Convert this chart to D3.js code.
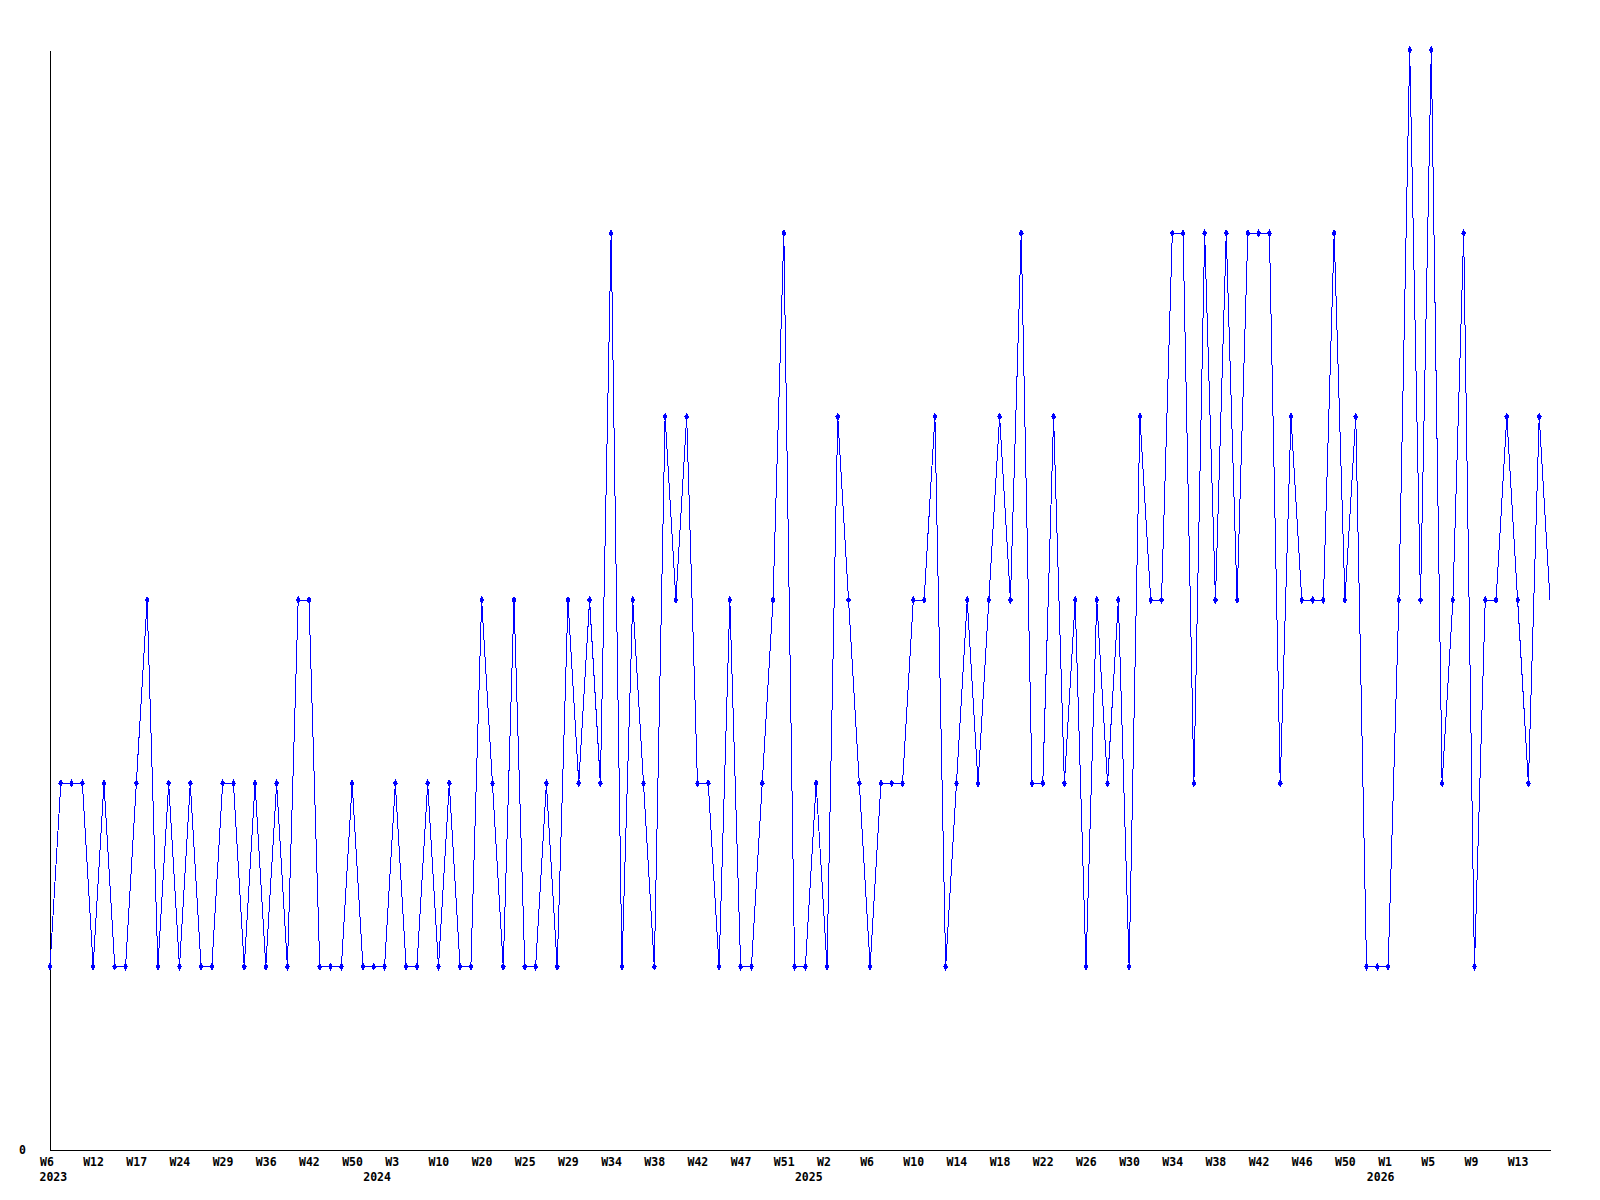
<!DOCTYPE html>
<html>
<head>
<meta charset="utf-8">
<script src="https://cdn.jsdelivr.net/npm/d3@7"></script>
<style>
  body { margin: 0; background: #fff; }
  svg text { font-family: "DejaVu Sans Mono", monospace; font-weight: bold; font-size: 11.5px; fill: #000; }
</style>
</head>
<body>
<div id="chart"></div>
<script>
// weekly counts, one per data point (ordinal x axis)
const values = [
  1, 2, 2, 2, 1, 2, 1, 1, 2, 3,
  1, 2, 1, 2, 1, 1, 2, 2, 1, 2,
  1, 2, 1, 3, 3, 1, 1, 1, 2, 1,
  1, 1, 2, 1, 1, 2, 1, 2, 1, 1,
  3, 2, 1, 3, 1, 1, 2, 1, 3, 2,
  3, 2, 5, 1, 3, 2, 1, 4, 3, 4,
  2, 2, 1, 3, 1, 1, 2, 3, 5, 1,
  1, 2, 1, 4, 3, 2, 1, 2, 2, 2,
  3, 3, 4, 1, 2, 3, 2, 3, 4, 3,
  5, 2, 2, 4, 2, 3, 1, 3, 2, 3,
  1, 4, 3, 3, 5, 5, 2, 5, 3, 5,
  3, 5, 5, 5, 2, 4, 3, 3, 3, 5,
  3, 4, 1, 1, 1, 3, 6, 3, 6, 2,
  3, 5, 1, 3, 3, 4, 3, 2, 4, 3
];

// a week label every 4th point
const tickLabels = ["W6", "W12", "W17", "W24", "W29", "W36", "W42", "W50", "W3", "W10",
  "W20", "W25", "W29", "W34", "W38", "W42", "W47", "W51", "W2", "W6",
  "W10", "W14", "W18", "W22", "W26", "W30", "W34", "W38", "W42", "W46",
  "W50", "W1", "W5", "W9", "W13"];
const tickEvery = 4;

const years = ["2023", "2024", "2025", "2026"];
const yearIndex = [0, 30, 70, 123];

const width = 1600, height = 1200;
const margin = { top: 50, right: 50, bottom: 50, left: 50 };

const svg = d3.select("#chart")
  .append("svg")
  .attr("width", width)
  .attr("height", height);

const idx = d3.range(values.length);

const x = d3.scalePoint()
  .domain(idx)
  .range([margin.left, width - margin.right]);

const y = d3.scaleLinear()
  .domain([0, 6])
  .range([height - margin.bottom, margin.top]);

// y axis: only the 0 label
const yAxis = svg.append("g")
  .attr("transform", `translate(${margin.left},0)`)
  .call(d3.axisLeft(y).tickValues([0]).tickFormat(d3.format("d")).tickSize(0).tickPadding(24));
yAxis.select(".domain").attr("stroke", "#000").attr("shape-rendering", "crispEdges");
yAxis.selectAll("text").attr("font-family", null).attr("font-size", null);

// x axis with week labels
const xAxis = svg.append("g")
  .attr("transform", `translate(0,${y(0)})`)
  .call(d3.axisBottom(x)
    .tickValues(idx.filter(i => i % tickEvery === 0))
    .tickFormat(i => tickLabels[i / tickEvery])
    .tickSize(0)
    .tickPadding(0));
xAxis.select(".domain").attr("stroke", "#000").attr("shape-rendering", "crispEdges");
xAxis.selectAll("text")
  .attr("font-family", null).attr("font-size", null)
  .attr("text-anchor", "start")
  .attr("dx", -10.5)
  .attr("dy", null)
  .attr("y", 16);

// year labels under the week labels
svg.append("g")
  .selectAll("text")
  .data(years)
  .join("text")
  .attr("x", (d, i) => x(yearIndex[i]) - 10.5)
  .attr("y", y(0) + 31)
  .text(d => d);

// the series
const line = d3.line()
  .x((d, i) => x(i))
  .y(d => y(d));

svg.append("path")
  .datum(values)
  .attr("d", line)
  .attr("fill", "none")
  .attr("stroke", "#0000ff")
  .attr("stroke-width", 1)
  .attr("shape-rendering", "crispEdges");

// small markers (the last point has none in the original)
svg.append("g")
  .selectAll("path")
  .data(values.slice(0, -1))
  .join("path")
  .attr("transform", (d, i) => `translate(${x(i)},${y(d)})`)
  .attr("d", d3.symbol(d3.symbolDiamond, 20))
  .attr("fill", "#0000ff")
  .attr("shape-rendering", "crispEdges");
</script>
</body>
</html>
